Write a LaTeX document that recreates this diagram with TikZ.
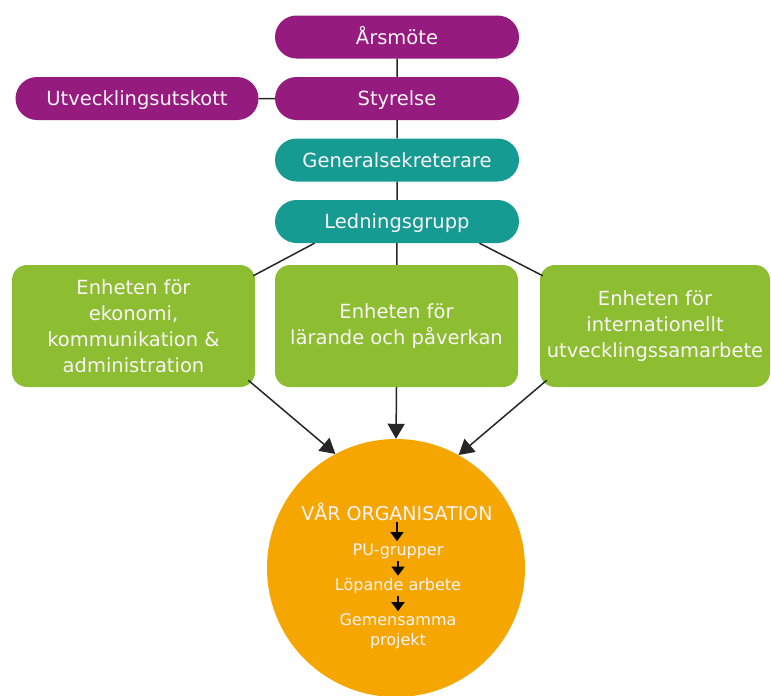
\documentclass[tikz,border=0pt]{standalone}
\usepackage{fontspec}
\setmainfont{DejaVu Sans}
\usetikzlibrary{arrows.meta,shapes.misc,calc}
\definecolor{cpurple}{RGB}{149,27,127}
\definecolor{cteal}{RGB}{22,155,146}
\definecolor{cgreen}{RGB}{141,189,48}
\definecolor{corange}{RGB}{245,166,0}
\definecolor{ctext}{RGB}{250,244,248}
\begin{document}
\begin{tikzpicture}[x=1pt,y=-1pt,
  pill/.style={rounded rectangle, minimum width=244pt, minimum height=43pt, inner sep=0pt,
    text=ctext, font=\fontsize{19.5}{26}\selectfont, text height=14pt, text depth=0pt},
  unitbox/.style={rectangle, rounded corners=15pt, fill=cgreen, minimum height=122pt,
    inner sep=0pt, align=center, text=ctext, font=\fontsize{19.5}{26}\selectfont},
  innertext/.style={text=ctext, font=\fontsize{16}{20}\selectfont, inner sep=0pt, align=center},
  conn/.style={draw=black!85, line width=1.5pt},
  bigarrow/.style={conn, -{Triangle[length=15pt,width=17pt]}},
  smallarrow/.style={draw=black, line width=1.5pt, -{Triangle[length=9pt,width=13pt]}, shorten >=2pt, shorten <=2pt}
]
\useasboundingbox (0,0) rectangle (771,696);

% circle
\node[circle, fill=corange, minimum size=258pt, inner sep=0pt] (org) at (396,568) {};

% pills
\node[pill, fill=cpurple] (ars) at (397,37) {Årsmöte};
\node[pill, fill=cpurple] (sty) at (397,98.5) {Styrelse};
\node[pill, fill=cpurple, minimum width=243pt] (utv) at (137,98.5) {Utvecklingsutskott};
\node[pill, fill=cteal] (gen) at (397,160) {Generalsekreterare};
\node[pill, fill=cteal] (led) at (397,221.5) {Ledningsgrupp};

% units
\node[unitbox, minimum width=243pt] (eko) at (133.5,326) {Enheten för\\ekonomi,\\kommunikation \&\\administration};
\node[unitbox, minimum width=243pt] (lar) at (396.5,326) {Enheten för\\lärande och påverkan};
\node[unitbox, minimum width=230pt] (int) at (655,326) {Enheten för\\internationellt\\utvecklingssamarbete};

% connectors
\draw[conn] (ars) -- (sty);
\draw[conn] (sty) -- (gen);
\draw[conn] (gen) -- (led);
\draw[conn] (utv) -- (sty);
\draw[conn] ([xshift=18pt]led.south west) -- ([xshift=-2pt,yshift=-11pt]eko.north east);
\draw[conn] (led) -- (lar);
\draw[conn] ([xshift=-18pt]led.south east) -- ([xshift=3pt,yshift=-11pt]int.north west);

\draw[bigarrow] ([xshift=-7pt,yshift=7pt]eko.south east) -- (org.118);
\draw[bigarrow] (lar.south) -- (org.north);
\draw[bigarrow] ([xshift=7pt,yshift=7pt]int.south west) -- (org.61);

% inner texts
\node[text=ctext, font=\fontsize{19}{22}\selectfont, inner sep=0pt, anchor=base, text depth=0pt] (vor) at (397,520) {VÅR ORGANISATION};
\node[innertext, anchor=base] (pu) at (398,555) {PU-grupper};
\node[innertext, anchor=base] (lop) at (398,590) {Löpande arbete};
\node[innertext] (gem) at (398,631) {Gemensamma\\projekt};

\draw[smallarrow] (vor.south) -- (vor.south |- pu.north);
\draw[smallarrow] (pu.south) -- (pu.south |- lop.north);
\draw[smallarrow] (lop.south) -- (lop.south |- gem.north);
\end{tikzpicture}
\end{document}
